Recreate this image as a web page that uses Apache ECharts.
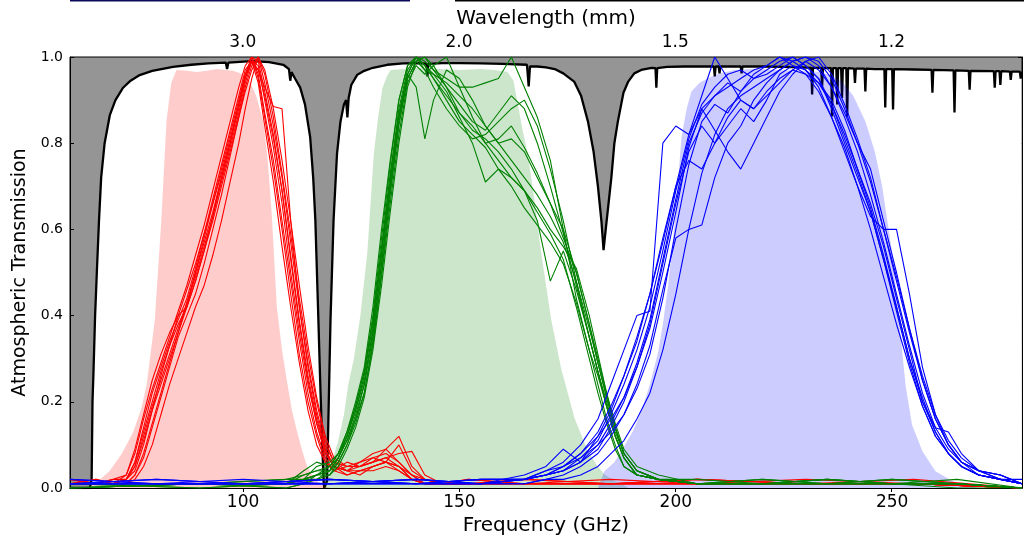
<!DOCTYPE html>
<html>
<head>
<meta charset="utf-8">
<script src="https://cdn.jsdelivr.net/npm/echarts@6/dist/echarts.min.js"></script>
<style>
  html, body { margin: 0; padding: 0; background: #fff; }
  #chart { width: 1024px; height: 541px; }
</style>
</head>
<body>
<div id="chart"></div>
<script>
// ---- data ----
const freqTicks = [100, 150, 200, 250];
const wavelengthTicks = [3.0, 2.0, 1.5, 1.2]; // mm
const C_MM_GHZ = 299.792458;

// atmospheric transmission (black curve, grey above it)
const atmFreq = [60, 64.6, 65.0, 65.2, 65.4, 65.8, 66.2, 66.7, 67.2, 68.0, 69.2, 70.5, 72.2, 74, 76.1, 79, 83.8, 88, 92, 96.0, 96.3, 96.6, 101, 103.2, 106, 109.3, 110.6, 110.9, 111.2, 112, 113.2, 114.3, 115.5, 116.2, 116.7, 117.4, 117.9, 118.3, 118.6, 118.75, 119.1, 119.4, 119.8, 120.2, 120.9, 121.7, 122.5, 123.3, 123.8, 124.1, 124.4, 125, 126.4, 128, 130, 133.3, 137, 141, 142.4, 142.6, 142.8, 146, 150, 155, 160, 165.6, 166.0, 166.3, 168, 170, 172, 174, 176.5, 178.1, 179.7, 181, 182, 182.8, 183.3, 183.8, 184.4, 185.1, 185.8, 186.6, 187.9, 189, 190.4, 192, 194.4, 195.3, 195.5, 195.7, 198, 202, 208.8, 209, 209.2, 209.9, 210.1, 210.3, 215, 215.2, 215.4, 220, 225, 229, 231.3, 231.5, 231.7, 233.6, 233.8, 234, 235.9, 236.1, 236.3, 237.1, 237.3, 237.5, 238.2, 238.4, 238.6, 239.4, 239.6, 239.8, 241.2, 241.4, 241.6, 243.6, 243.8, 244, 246, 248.2, 248.4, 248.6, 250, 250.2, 250.4, 255, 259.1, 259.3, 259.5, 264.2, 264.4, 264.6, 267.7, 267.9, 268.1, 273.5, 273.7, 273.9, 274.8, 275, 275.2, 277.2, 277.4, 277.6, 279.5, 279.7, 279.9, 280];
const atmTrans = [0.0, 0.0, 0.02, 0.2, 0.26, 0.40, 0.50, 0.62, 0.72, 0.80, 0.865, 0.90, 0.928, 0.945, 0.958, 0.968, 0.977, 0.982, 0.985, 0.987, 0.972, 0.987, 0.99, 0.99, 0.988, 0.982, 0.972, 0.945, 0.965, 0.950, 0.929, 0.89, 0.814, 0.72, 0.621, 0.39, 0.22, 0.10, 0.015, 0.0, 0.0, 0.016, 0.2, 0.39, 0.62, 0.775, 0.85, 0.89, 0.90, 0.86, 0.905, 0.935, 0.959, 0.968, 0.975, 0.982, 0.985, 0.986, 0.984, 0.955, 0.984, 0.986, 0.986, 0.985, 0.984, 0.982, 0.932, 0.978, 0.978, 0.976, 0.972, 0.962, 0.943, 0.91, 0.85, 0.78, 0.70, 0.62, 0.552, 0.60, 0.655, 0.72, 0.80, 0.85, 0.917, 0.943, 0.962, 0.97, 0.975, 0.974, 0.929, 0.974, 0.977, 0.978, 0.978, 0.955, 0.978, 0.978, 0.962, 0.978, 0.978, 0.962, 0.978, 0.978, 0.977, 0.976, 0.975, 0.913, 0.975, 0.975, 0.93, 0.975, 0.974, 0.862, 0.974, 0.974, 0.89, 0.974, 0.974, 0.905, 0.974, 0.974, 0.862, 0.974, 0.973, 0.94, 0.973, 0.973, 0.92, 0.973, 0.972, 0.972, 0.883, 0.972, 0.972, 0.878, 0.972, 0.971, 0.97, 0.917, 0.97, 0.969, 0.871, 0.969, 0.968, 0.924, 0.968, 0.967, 0.929, 0.967, 0.967, 0.935, 0.967, 0.966, 0.947, 0.966, 0.966, 0.95, 0.966, 0.966];

// shaded band models
const redBandFreq = [64, 66.1, 69.2, 72, 74.6, 76.5, 77.7, 79.6, 81.1, 82.3, 83.4, 84.6, 87, 89.3, 91.5, 93.9, 96, 97.7, 99.5, 101.5, 103, 104.7, 105.7, 106.6, 107.8, 109, 110.1, 111.3, 112.5, 113.7, 114.8, 116, 117.1, 118.5, 120];
const redBandVal = [0, 0.012, 0.04, 0.08, 0.13, 0.185, 0.239, 0.39, 0.621, 0.851, 0.94, 0.97, 0.968, 0.965, 0.968, 0.972, 0.970, 0.968, 0.962, 0.945, 0.91, 0.85, 0.76, 0.64, 0.42, 0.32, 0.25, 0.18, 0.13, 0.085, 0.05, 0.03, 0.016, 0.005, 0];
const greenBandFreq = [118.5, 119.5, 120.5, 122, 123.3, 124.3, 125.6, 127.1, 128.7, 130.2, 131.2, 132.2, 133.2, 134.1, 137, 141, 145, 150, 155, 158, 161.1, 162.5, 163.5, 164.6, 165.8, 167.3, 168.9, 171.2, 173.5, 176.6, 179.7, 181.6, 183.5, 185.5, 187.4, 189];
const greenBandVal = [0, 0.02, 0.06, 0.11, 0.17, 0.24, 0.30, 0.40, 0.545, 0.775, 0.86, 0.928, 0.955, 0.970, 0.972, 0.975, 0.972, 0.970, 0.972, 0.970, 0.966, 0.945, 0.89, 0.83, 0.775, 0.67, 0.545, 0.391, 0.277, 0.162, 0.085, 0.055, 0.032, 0.018, 0.01, 0];
const blueBandFreq = [182, 183.5, 185.8, 187.4, 190, 192, 194, 195.9, 197, 198.2, 199.8, 201.3, 202.5, 203.6, 205.5, 207.5, 210, 213.6, 218, 223, 228, 233, 236, 238.4, 241, 243.8, 246, 247.7, 250, 251.6, 253.1, 254.6, 257, 260, 263.9, 267, 270];
const blueBandVal = [0, 0.039, 0.06, 0.085, 0.13, 0.177, 0.24, 0.315, 0.38, 0.468, 0.621, 0.813, 0.88, 0.92, 0.94, 0.951, 0.962, 0.970, 0.972, 0.970, 0.968, 0.966, 0.957, 0.943, 0.91, 0.851, 0.78, 0.699, 0.545, 0.391, 0.238, 0.146, 0.085, 0.039, 0.016, 0.006, 0];

// measured spectra, 90 GHz detectors (red)
const redFreq = [60, 66, 70, 73, 75, 77, 79, 81, 83, 85, 87, 89, 91, 93, 95, 97, 99, 100.5, 102, 103.5, 105, 107, 109, 111, 113, 115, 117, 119, 121, 124, 127, 130, 133, 136, 139, 142, 146, 152, 165, 185, 205, 230, 255, 280];
const redCurves = [
  [.01,.01,.01,.02,.05,.12,.19,.25,.31,.37, .43,.49,.56,.63,.71,.79,.87,.94,.99,.98, .90,.79,.66,.50,.36,.24,.15,.08,.05,.04, .05,.06,.07,.05,.02,.01,.01,.01,.02,.01, .01,.01,.01,.00],
  [.01,.02,.01,.03,.08,.16,.23,.29,.35,.41, .47,.54,.61,.69,.77,.85,.93,.98,1.0,.95, .86,.74,.60,.45,.31,.20,.12,.06,.04,.05, .06,.08,.09,.06,.03,.01,.01,.02,.01,.01, .02,.01,.01,.00],
  [.02,.01,.01,.01,.03,.07,.14,.21,.28,.35, .40,.45,.52,.60,.68,.77,.86,.93,.98,1.0, .94,.84,.72,.57,.42,.29,.18,.10,.06,.04, .04,.05,.06,.10,.04,.02,.01,.01,.01,.02, .01,.01,.01,.00],
  [.01,.01,.02,.02,.06,.13,.20,.27,.33,.38, .42,.48,.55,.63,.72,.80,.89,.95,.99,.97, .93,.885,.88,.62,.42,.28,.17,.09,.05,.04, .03,.05,.06,.05,.03,.01,.01,.01,.01,.01, .01,.02,.01,.00],
  [.01,.01,.02,.03,.09,.17,.25,.31,.36,.40, .42,.50,.58,.66,.74,.82,.90,.96,1.0,.96, .87,.76,.62,.48,.34,.22,.13,.07,.04,.06, .05,.06,.09,.12,.05,.02,.01,.01,.02,.01, .01,.01,.01,.00],
  [.01,.01,.01,.01,.02,.05,.10,.17,.24,.30, .36,.42,.47,.54,.62,.71,.80,.88,.95,1.0, .97,.88,.76,.62,.47,.33,.21,.12,.07,.05, .05,.06,.07,.08,.085,.03,.01,.01,.01,.01, .02,.01,.01,.00],
  [.02,.01,.01,.02,.06,.14,.22,.28,.34,.39, .44,.51,.59,.67,.75,.83,.91,.97,.99,.94, .84,.71,.56,.42,.29,.18,.10,.06,.04,.03, .04,.05,.06,.05,.02,.01,.01,.02,.01,.01, .01,.01,.01,.00],
  [.01,.01,.01,.02,.04,.10,.18,.24,.30,.36, .43,.50,.57,.64,.72,.80,.88,.95,1.0,.99, .92,.82,.69,.54,.39,.26,.16,.09,.05,.03, .04,.04,.05,.04,.02,.01,.01,.01,.01,.01, .02,.01,.01,.00],
  [.01,.02,.01,.02,.05,.11,.18,.26,.33,.40, .46,.52,.59,.66,.73,.81,.89,.96,.99,.97, .91,.81,.69,.53,.38,.25,.15,.08,.05,.04, .06,.07,.06,.04,.02,.01,.01,.01,.01,.01, .01,.01,.02,.00],
  [.01,.01,.01,.01,.03,.08,.15,.22,.29,.36, .42,.48,.55,.62,.70,.78,.86,.92,.97,1.0, .96,.86,.73,.59,.44,.31,.20,.11,.06,.05, .05,.07,.08,.06,.03,.02,.01,.01,.01,.01, .01,.01,.01,.00]
];

// 150 GHz detectors (green)
const greenFreq = [60, 90, 110, 114, 117, 120, 122, 124, 126, 128, 130, 132, 134, 136, 138, 140, 142, 144, 147, 150, 153, 156, 159, 162, 165, 168, 171, 174, 177, 180, 182, 184, 186, 188, 191, 196, 205, 220, 235, 250, 265, 280];
const greenCurves = [
  [.00,.01,.01,.02,.02,.04,.07,.12,.18,.26, .38,.55,.72,.88,.97,1.0,.98,.95,.90,.85, .82,.79,.74,.70,.65,.61,.57,.52,.43,.32, .24,.16,.10,.05,.03,.02,.01,.01,.02,.01, .01,.00],
  [.01,.01,.00,.01,.03,.03,.06,.10,.16,.22, .34,.50,.68,.84,.95,.99,1.0,.97,.95,.93, .93,.94,.95,1.0,.93,.86,.76,.60,.44,.32, .26,.19,.12,.07,.03,.02,.01,.01,.01,.02, .01,.00],
  [.00,.01,.02,.03,.04,.05,.08,.13,.20,.28, .42,.60,.76,.90,.98,1.0,.97,.93,.88,.84, .81,.82,.85,.88,.90,.84,.74,.62,.48,.35, .27,.19,.12,.07,.03,.02,.01,.02,.01,.01, .01,.00],
  [.01,.00,.01,.02,.03,.04,.07,.11,.17,.24, .35,.52,.70,.86,.96,.93,.81,.90,.97,.95, .90,.84,.80,.76,.72,.68,.63,.57,.48,.37, .29,.21,.14,.08,.04,.02,.01,.01,.02,.01, .00,.00],
  [.00,.01,.01,.02,.05,.06,.08,.12,.18,.25, .36,.52,.69,.85,.95,.99,.97,.96,.92,.86, .80,.71,.74,.72,.69,.62,.48,.55,.46,.35, .27,.20,.13,.08,.04,.02,.02,.01,.01,.01, .01,.00],
  [.01,.01,.01,.04,.06,.05,.07,.12,.19,.27, .40,.58,.75,.90,.98,1.0,.99,.97,.93,.89, .85,.83,.87,.91,.88,.80,.70,.59,.47,.35, .27,.19,.12,.07,.03,.02,.01,.01,.01,.02, .01,.00],
  [.00,.01,.00,.01,.02,.03,.05,.09,.14,.21, .32,.47,.64,.80,.93,.99,1.0,.98,.93,.87, .83,.81,.78,.74,.69,.64,.59,.53,.42,.30, .22,.15,.09,.05,.03,.02,.01,.01,.01,.01, .01,.00],
  [.01,.00,.01,.03,.04,.04,.07,.11,.16,.24, .37,.54,.71,.86,.96,1.0,.98,.96,.94,.91, .88,.84,.80,.81,.78,.72,.66,.58,.50,.38, .30,.22,.15,.09,.05,.03,.01,.02,.01,.01, .02,.00],
  [.00,.01,.01,.02,.03,.04,.06,.10,.15,.22, .33,.49,.66,.82,.94,.98,.96,.98,1.0,.93, .86,.80,.81,.84,.79,.73,.66,.60,.50,.38, .29,.21,.14,.08,.04,.02,.01,.01,.01,.01, .01,.00],
  [.01,.01,.02,.02,.03,.05,.08,.13,.19,.27, .39,.56,.73,.87,.96,1.0,.98,.95,.91,.87, .84,.80,.76,.72,.69,.65,.60,.56,.51,.40, .31,.22,.14,.08,.04,.02,.01,.01,.02,.01, .01,.00]
];

// 220 GHz detectors (blue)
const blueFreq = [60, 80, 100, 120, 140, 155, 165, 170, 174, 178, 182, 185, 188, 191, 194, 197, 200, 203, 206, 209, 212, 215, 218, 221, 224, 227, 230, 233, 236, 239, 242, 245, 248, 251, 254, 257, 260, 263, 266, 270, 275, 280];
const blueCurves = [
  [.01,.01,.01,.02,.01,.01,.03,.05,.09,.06, .12,.18,.26,.35,.45,.57,.70,.82,.88,.91, .94,.92,.96,.98,1.0,.98,.96,.92,.86,.79, .70,.60,.49,.38,.28,.19,.12,.08,.05,.03, .02,.01],
  [.02,.01,.01,.01,.02,.01,.02,.03,.04,.07, .10,.13,.17,.23,.31,.44,.60,.75,.85,.89, .87,.92,.95,.97,.99,1.0,.98,.95,.88,.80, .72,.64,.53,.41,.29,.19,.12,.08,.05,.03, .02,.01],
  [.01,.02,.01,.01,.01,.02,.02,.04,.05,.08, .12,.16,.21,.28,.37,.50,.64,.79,.88,.83, .78,.74,.80,.86,.92,.96,.99,.97,.93,.86, .78,.68,.57,.45,.33,.22,.14,.09,.06,.04, .02,.01],
  [.01,.01,.02,.01,.01,.01,.01,.02,.03,.05, .08,.12,.17,.24,.33,.46,.58,.60,.61,.72, .80,.84,.90,.94,.97,.99,1.0,.98,.93,.87, .80,.74,.62,.50,.37,.25,.16,.10,.06,.04, .03,.01],
  [.01,.01,.01,.02,.01,.02,.02,.04,.06,.10, .16,.24,.32,.40,.41,.80,.84,.82,.91,1.0, .95,.90,.88,.91,.94,.97,.99,1.0,.96,.89, .81,.72,.60,.48,.36,.25,.16,.10,.06,.04, .02,.02],
  [.01,.01,.01,.01,.02,.01,.01,.02,.02,.03, .05,.08,.11,.16,.22,.32,.45,.60,.73,.82, .88,.91,.93,.95,.97,.99,1.0,.99,.95,.88, .80,.71,.60,.49,.37,.26,.17,.11,.07,.04, .03,.01],
  [.02,.01,.01,.02,.01,.01,.02,.03,.05,.08, .13,.19,.26,.34,.45,.58,.70,.76,.74,.80, .86,.90,.88,.92,.95,.97,.96,.94,.90,.83, .74,.65,.54,.42,.30,.20,.13,.08,.05,.03, .02,.01],
  [.01,.01,.01,.01,.02,.01,.02,.03,.04,.06, .09,.14,.20,.28,.38,.52,.66,.78,.84,.80, .84,.88,.85,.90,.96,.98,.97,.93,.86,.78, .70,.63,.60,.60,.45,.28,.17,.10,.06,.03, .02,.01],
  [.01,.02,.01,.01,.01,.01,.02,.03,.04,.06, .10,.15,.21,.29,.39,.53,.67,.80,.87,.91, .93,.95,.97,.98,1.0,.99,.97,.94,.89,.82, .74,.66,.56,.44,.32,.20,.14,.13,.08,.04, .03,.01],
  [.01,.01,.01,.01,.01,.02,.02,.03,.05,.07, .11,.17,.24,.32,.42,.55,.69,.81,.89,.93, .96,.97,.95,.96,.98,1.0,.98,.95,.89,.81, .73,.64,.53,.42,.30,.21,.13,.08,.05,.03, .02,.01]
];

// ---- build chart ----
const FONT = 'DejaVu Sans';
const pairs = (xs, ys) => xs.map((x, i) => [x, ys[i]]);
const wavePos = wavelengthTicks.map(w => C_MM_GHZ / w);

function curveSeries(xs, curves, color, z) {
  return curves.map(ys => ({
    type: 'line',
    data: pairs(xs, ys),
    showSymbol: false,
    silent: true,
    z: z,
    lineStyle: { color: color, width: 1.1 },
    itemStyle: { color: color }
  }));
}

function bandSeries(xs, ys, fill) {
  return {
    type: 'line',
    data: pairs(xs, ys),
    showSymbol: false,
    silent: true,
    z: 3,
    lineStyle: { width: 0 },
    areaStyle: { color: fill, opacity: 1 }
  };
}

const series = [
  {
    type: 'line',
    data: pairs(atmFreq, atmTrans),
    showSymbol: false,
    silent: true,
    z: 2,
    lineStyle: { color: '#000', width: 2.3 },
    areaStyle: { color: '#fff', opacity: 1 }
  },
  bandSeries(redBandFreq, redBandVal, 'rgba(255,0,0,0.2)'),
  bandSeries(greenBandFreq, greenBandVal, 'rgba(0,128,0,0.2)'),
  bandSeries(blueBandFreq, blueBandVal, 'rgba(0,0,255,0.2)')
]
  .concat(curveSeries(redFreq, redCurves, '#ff0000', 4))
  .concat(curveSeries(greenFreq, greenCurves, '#008000', 5))
  .concat(curveSeries(blueFreq, blueCurves, '#0000ff', 6));

const chart = echarts.init(document.getElementById('chart'), null, { renderer: 'canvas' });
chart.setOption({
  animation: false,
  backgroundColor: '#fff',
  textStyle: { fontFamily: FONT },
  grid: {
    left: 70, right: 2, top: 57, bottom: 49,
    show: true, backgroundColor: '#959595', borderColor: '#000', borderWidth: 1
  },
  xAxis: [
    {
      type: 'value', position: 'bottom', min: 60, max: 280,
      name: 'Frequency (GHz)', nameLocation: 'middle', nameGap: 28,
      nameTextStyle: { fontSize: 20, color: '#000', fontFamily: FONT },
      axisLine: { show: true, lineStyle: { color: '#000', width: 1 } },
      axisTick: { show: true, inside: true, length: 4, customValues: freqTicks, lineStyle: { color: '#000' } },
      axisLabel: { customValues: freqTicks, fontSize: 17, color: '#000', margin: 6, fontFamily: FONT },
      splitLine: { show: false }
    },
    {
      type: 'value', position: 'top', min: 60, max: 280,
      name: 'Wavelength (mm)', nameLocation: 'middle', nameGap: 24,
      nameTextStyle: { fontSize: 20, color: '#000', fontFamily: FONT },
      axisLine: { show: true, lineStyle: { color: '#000', width: 1 } },
      axisTick: { show: true, inside: true, length: 4, customValues: wavePos, lineStyle: { color: '#000' } },
      axisLabel: {
        customValues: wavePos, fontSize: 17, color: '#000', margin: 6, fontFamily: FONT,
        formatter: v => (C_MM_GHZ / v).toFixed(1)
      },
      splitLine: { show: false }
    }
  ],
  yAxis: [
    {
      type: 'value', position: 'left', min: 0, max: 1, interval: 0.2,
      name: 'Atmospheric Transmission', nameLocation: 'middle', nameGap: 36,
      nameTextStyle: { fontSize: 19, color: '#000', fontFamily: FONT },
      axisLine: { show: true, lineStyle: { color: '#000', width: 1 } },
      axisTick: { show: true, inside: true, length: 4, lineStyle: { color: '#000' } },
      axisLabel: { fontSize: 14, color: '#000', margin: 7, fontFamily: FONT, formatter: v => v.toFixed(1) },
      splitLine: { show: false }
    },
    {
      type: 'value', position: 'right', min: 0, max: 1, interval: 0.2,
      axisLine: { show: true, lineStyle: { color: '#000', width: 1 } },
      axisTick: { show: true, inside: true, length: 4, lineStyle: { color: '#000' } },
      axisLabel: { show: false },
      splitLine: { show: false }
    }
  ],
  graphic: [
    { type: 'rect', shape: { x: 70, y: 0, width: 340, height: 1.5 }, style: { fill: '#0a0a5a' }, silent: true },
    { type: 'rect', shape: { x: 455, y: 0, width: 569, height: 1.5 }, style: { fill: '#000' }, silent: true }
  ],
  series: series
});
</script>
</body>
</html>
